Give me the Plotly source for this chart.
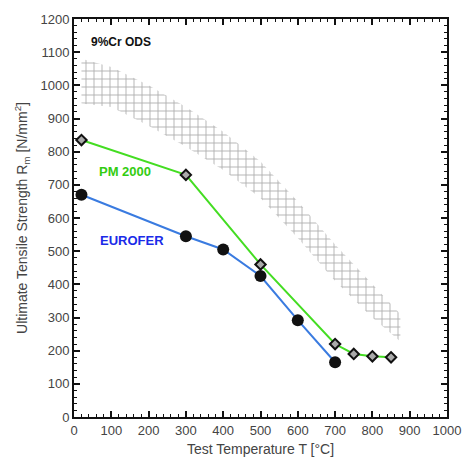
import plotly.graph_objects as go

# Data
eurofer_T = [20, 300, 400, 500, 600, 700]
eurofer_Rm = [670, 545, 505, 425, 292, 165]

pm2000_T = [20, 300, 500, 700, 750, 800, 850]
pm2000_Rm = [835, 730, 460, 220, 190, 183, 180]

ods_T = [20, 100, 200, 300, 400, 500, 600, 700, 800, 875]
ods_upper = [1080, 1055, 1000, 935, 860, 770, 650, 520, 400, 310]
ods_lower = [945, 935, 878, 815, 745, 660, 540, 410, 300, 228]

x_ticks = [0, 100, 200, 300, 400, 500, 600, 700, 800, 900, 1000]
y_ticks = [0, 100, 200, 300, 400, 500, 600, 700, 800, 900, 1000, 1100, 1200]

fig = go.Figure()

# Hatched band for 9%Cr ODS
band_x = ods_T + ods_T[::-1]
band_y = ods_upper + ods_lower[::-1]
fig.add_trace(go.Scatter(
    x=band_x, y=band_y, mode="lines", fill="toself",
    line=dict(width=0, color="rgba(0,0,0,0)"),
    fillcolor="rgba(0,0,0,0)",
    fillpattern=dict(shape="+", size=8, solidity=0.2, fgcolor="#555555", bgcolor="rgba(255,255,255,0)"),
    hoverinfo="skip", showlegend=False,
))

fig.add_trace(go.Scatter(
    x=pm2000_T, y=pm2000_Rm, mode="lines+markers",
    line=dict(color="#44dd22", width=2),
    marker=dict(symbol="diamond", size=8, color="#aaaaaa", line=dict(color="#111111", width=2)),
    showlegend=False,
))

fig.add_trace(go.Scatter(
    x=eurofer_T, y=eurofer_Rm, mode="lines+markers",
    line=dict(color="#3a7be0", width=2),
    marker=dict(symbol="circle", size=12, color="#111111"),
    showlegend=False,
))

fig.add_annotation(x=40, y=1132, text="<b>9%Cr ODS</b>", showarrow=False, xanchor="left",
                   font=dict(family="Liberation Sans, Arial", size=12, color="#111111"))
fig.add_annotation(x=62, y=740, text="<b>PM 2000</b>", showarrow=False, xanchor="left",
                   font=dict(family="Liberation Sans, Arial", size=13, color="#33cc11"))
fig.add_annotation(x=65, y=533, text="<b>EUROFER</b>", showarrow=False, xanchor="left",
                   font=dict(family="Liberation Sans, Arial", size=13, color="#1a2be8"))

axis_common = dict(
    showgrid=False, zeroline=False, showline=True, linecolor="#111111", linewidth=2,
    mirror="allticks", ticks="inside", ticklen=6, tickwidth=1.5, tickcolor="#111111",
    tickfont=dict(family="Liberation Sans, Arial", size=13, color="#444444"),
)

fig.update_xaxes(
    range=[0, 1000], tickvals=x_ticks, ticktext=[str(v) for v in x_ticks],
    minor=dict(dtick=20, ticks="inside", ticklen=3, tickcolor="#111111", tickwidth=1.2),
    title=dict(text="Test Temperature T [°C]", font=dict(family="Liberation Sans, Arial", size=14, color="#444444"), standoff=8),
    **axis_common,
)
fig.update_yaxes(
    range=[0, 1200], tickvals=y_ticks, ticktext=[str(v) for v in y_ticks],
    minor=dict(dtick=20, ticks="inside", ticklen=3, tickcolor="#111111", tickwidth=1.2),
    title=dict(text="Ultimate Tensile Strength R<sub>m</sub> [N/mm<sup>2</sup>]", font=dict(family="Liberation Sans, Arial", size=14, color="#444444"), standoff=10),
    **axis_common,
)

fig.update_layout(
    width=473, height=468,
    margin=dict(l=74, r=15, t=12, b=51),
    paper_bgcolor="white", plot_bgcolor="white",
)

fig.write_html("out.html")
